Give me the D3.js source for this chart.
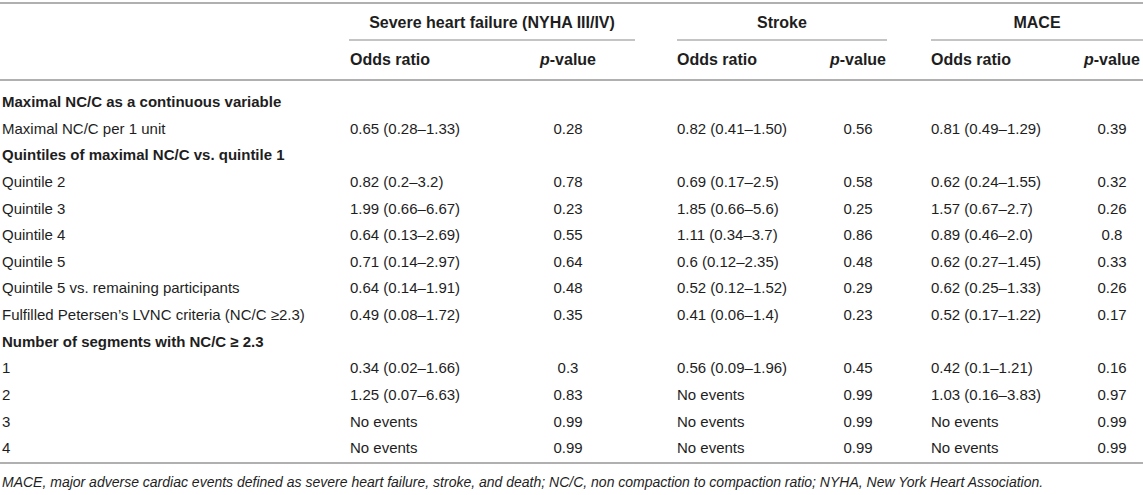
<!DOCTYPE html>
<html>
<head>
<meta charset="utf-8">
<script src="https://cdn.jsdelivr.net/npm/d3@7"></script>
<style>
  html, body { margin: 0; padding: 0; background: #fff; }
  svg { display: block; font-family: "Liberation Sans", Arial, Helvetica, sans-serif; }
</style>
</head>
<body>
<svg id="chart" width="1143" height="495"></svg>
<script>
// ---- data ----
const groups = ["Severe heart failure (NYHA III/IV)", "Stroke", "MACE"];
const subHeaders = ["Odds ratio", "p-value"];
const rowLabels = [
  "Maximal NC/C as a continuous variable",
  "Maximal NC/C per 1 unit",
  "Quintiles of maximal NC/C vs. quintile 1",
  "Quintile 2",
  "Quintile 3",
  "Quintile 4",
  "Quintile 5",
  "Quintile 5 vs. remaining participants",
  "Fulfilled Petersen’s LVNC criteria (NC/C ≥2.3)",
  "Number of segments with NC/C ≥ 2.3",
  "1",
  "2",
  "3",
  "4"
];
const sectionRows = [0, 2, 9];
const hfOR = ["", "0.65 (0.28–1.33)", "", "0.82 (0.2–3.2)", "1.99 (0.66–6.67)", "0.64 (0.13–2.69)", "0.71 (0.14–2.97)", "0.64 (0.14–1.91)", "0.49 (0.08–1.72)", "", "0.34 (0.02–1.66)", "1.25 (0.07–6.63)", "No events", "No events"];
const hfP = ["", "0.28", "", "0.78", "0.23", "0.55", "0.64", "0.48", "0.35", "", "0.3", "0.83", "0.99", "0.99"];
const strokeOR = ["", "0.82 (0.41–1.50)", "", "0.69 (0.17–2.5)", "1.85 (0.66–5.6)", "1.11 (0.34–3.7)", "0.6 (0.12–2.35)", "0.52 (0.12–1.52)", "0.41 (0.06–1.4)", "", "0.56 (0.09–1.96)", "No events", "No events", "No events"];
const strokeP = ["", "0.56", "", "0.58", "0.25", "0.86", "0.48", "0.29", "0.23", "", "0.45", "0.99", "0.99", "0.99"];
const maceOR = ["", "0.81 (0.49–1.29)", "", "0.62 (0.24–1.55)", "1.57 (0.67–2.7)", "0.89 (0.46–2.0)", "0.62 (0.27–1.45)", "0.62 (0.25–1.33)", "0.52 (0.17–1.22)", "", "0.42 (0.1–1.21)", "1.03 (0.16–3.83)", "No events", "No events"];
const maceP = ["", "0.39", "", "0.32", "0.26", "0.8", "0.33", "0.26", "0.17", "", "0.16", "0.97", "0.99", "0.99"];
const footnote = "MACE, major adverse cardiac events defined as severe heart failure, stroke, and death; NC/C, non compaction to compaction ratio; NYHA, New York Heart Association.";

// ---- layout ----
const W = 1143, H = 495;
const textColor = "#1e1e1e";
const lineColor = "#b0b0b0";
const fsBody = 15, fsHead = 16, fsSection = 15, fsNote = 14;
const svg = d3.select("#chart");

const groupSpans = [[349, 635], [677, 887], [931, 1143]];
const orX = [350, 677, 931];
const pX = [568, 858, 1112];
const seriesOR = [hfOR, strokeOR, maceOR];
const seriesP = [hfP, strokeP, maceP];

const step = 26.64;
const y = d3.scaleBand().domain(d3.range(rowLabels.length))
  .range([101.7 - step / 2, 101.7 - step / 2 + step * rowLabels.length]).paddingInner(0);
const yc = i => y(i) + y.bandwidth() / 2;

function hline(x1, x2, yy, w) {
  svg.append("line").attr("x1", x1).attr("x2", x2).attr("y1", yy).attr("y2", yy)
    .attr("stroke", lineColor).attr("stroke-width", w);
}

// rules
hline(0, W, 3, 2);
groupSpans.forEach(s => hline(s[0], s[1], 40, 1.5));
hline(0, W, 80, 2);
hline(0, W, 463, 2);

// group headers
svg.selectAll("text.group").data(groups).join("text")
  .attr("class", "group")
  .attr("x", (d, i) => (groupSpans[i][0] + groupSpans[i][1]) / 2)
  .attr("y", 22).attr("dy", "0.35em")
  .attr("text-anchor", "middle")
  .attr("font-weight", "bold").attr("font-size", fsHead).attr("fill", textColor)
  .text(d => d);

// sub headers
groups.forEach((g, i) => {
  svg.append("text").attr("x", orX[i]).attr("y", 59).attr("dy", "0.35em")
    .attr("font-weight", "bold").attr("font-size", fsHead).attr("fill", textColor)
    .text(subHeaders[0]);
  const t = svg.append("text").attr("x", pX[i]).attr("y", 59).attr("dy", "0.35em")
    .attr("text-anchor", "middle")
    .attr("font-weight", "bold").attr("font-size", fsHead).attr("fill", textColor);
  t.append("tspan").attr("font-style", "italic").text(subHeaders[1].slice(0, 1));
  t.append("tspan").text(subHeaders[1].slice(1));
});

// row labels
svg.selectAll("text.row").data(rowLabels).join("text")
  .attr("class", "row")
  .attr("x", 2).attr("y", (d, i) => yc(i)).attr("dy", "0.35em")
  .attr("fill", textColor)
  .attr("font-size", (d, i) => sectionRows.includes(i) ? fsSection : fsBody)
  .attr("font-weight", (d, i) => sectionRows.includes(i) ? "bold" : "normal")
  .text(d => d);

// cells
seriesOR.forEach((arr, gi) => {
  svg.selectAll("text.or" + gi).data(arr).join("text")
    .attr("class", "or" + gi)
    .attr("x", orX[gi]).attr("y", (d, i) => yc(i)).attr("dy", "0.35em")
    .attr("font-size", fsBody).attr("fill", textColor)
    .text(d => d);
});
seriesP.forEach((arr, gi) => {
  svg.selectAll("text.p" + gi).data(arr).join("text")
    .attr("class", "p" + gi)
    .attr("x", pX[gi]).attr("y", (d, i) => yc(i)).attr("dy", "0.35em")
    .attr("text-anchor", "middle")
    .attr("font-size", fsBody).attr("fill", textColor)
    .text(d => d);
});

// footnote
svg.append("text").attr("x", 2).attr("y", 482).attr("dy", "0.35em")
  .attr("font-size", fsNote).attr("font-style", "italic").attr("fill", textColor)
  .text(footnote);
</script>
</body>
</html>
